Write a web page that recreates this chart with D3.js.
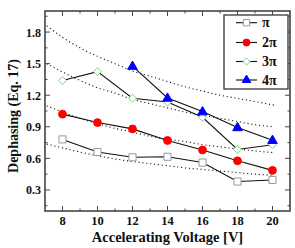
<!DOCTYPE html>
<html><head><meta charset="utf-8">
<script src="https://cdn.jsdelivr.net/npm/d3@7"></script>
<style>
html,body{margin:0;padding:0;background:#fff;}
text{font-family:"Liberation Serif","Times New Roman",serif;font-weight:bold;fill:#111;}
</style></head>
<body>
<svg id="c" width="295" height="248"></svg>
<script>
// ---- data ----
const voltages = [8, 10, 12, 14, 16, 18, 20];
const seriesNames = ["π", "2π", "3π", "4π"];
const piValues    = [0.78, 0.66, 0.61, 0.615, 0.56, 0.38, 0.395];
const twoPiValues = [1.02, 0.94, 0.88, 0.77, 0.68, 0.577, 0.486];
const threePiValues = [1.34, 1.424, 1.171, 1.135, 0.99, 0.685, 0.73];
const fourPiVolt  = [12, 14, 16, 18, 20];
const fourPiValues = [1.477, 1.174, 1.045, 0.894, 0.773];
// dotted guide curves
const curveVolt = [7.1, 8, 9, 10, 11, 12, 13, 14, 15, 16, 17, 18, 19, 20.1];
const curveA = [1.86, 1.75, 1.65, 1.57, 1.50, 1.43, 1.38, 1.33, 1.28, 1.24, 1.20, 1.17, 1.14, 1.105];
const curveB = [1.50, 1.42, 1.34, 1.27, 1.22, 1.16, 1.12, 1.08, 1.04, 1.01, 0.98, 0.95, 0.92, 0.90];
const curveC = [1.10, 1.04, 0.98, 0.93, 0.885, 0.85, 0.81, 0.78, 0.76, 0.73, 0.71, 0.69, 0.67, 0.655];
const curveD = [0.735, 0.70, 0.66, 0.625, 0.595, 0.57, 0.55, 0.53, 0.51, 0.495, 0.48, 0.465, 0.45, 0.44];
const xTickValues = [8, 10, 12, 14, 16, 18, 20];
const xMinorValues = [9, 11, 13, 15, 17, 19];
const yTickValues = [0.3, 0.6, 0.9, 1.2, 1.5, 1.8];
const yMinorValues = [0.15, 0.45, 0.75, 1.05, 1.35, 1.65, 1.95];
const xTitle = "Accelerating Voltage [V]";
const yTitle = "Dephasing (Eq. 17)";

// ---- drawing ----
const svg = d3.select("#c");
const L = 45, R = 290, T = 11, B = 211;
const x = d3.scaleLinear().domain([7, 21]).range([L, R]);
const y = d3.scaleLinear().domain([0.1, 2.0]).range([B, T]);
const axisColor = "#444";

// dotted curves
const line = d3.line().x(d => x(d[0])).y(d => y(d[1])).curve(d3.curveMonotoneX);
[curveA, curveB, curveC, curveD].forEach(c => {
  svg.append("path").datum(curveVolt.map((v, i) => [v, c[i]]))
    .attr("d", line).attr("fill", "none").attr("stroke", "#111")
    .attr("stroke-width", 1.1).attr("stroke-dasharray", "1.1,2.8");
});

// series
const series = [
  {name: seriesNames[0], xs: voltages, ys: piValues, sym: d3.symbolSquare, size: 50, fill: "#fff", stroke: "#999"},
  {name: seriesNames[1], xs: voltages, ys: twoPiValues, sym: d3.symbolCircle, size: 48, fill: "#f00", stroke: "#f00"},
  {name: seriesNames[2], xs: voltages, ys: threePiValues, sym: d3.symbolDiamond2 || d3.symbolDiamond, size: 40, fill: "#fff", stroke: "#8c8"},
  {name: seriesNames[3], xs: fourPiVolt, ys: fourPiValues, sym: d3.symbolTriangle, size: 40, fill: "#00f", stroke: "#00f"}
];
const sline = d3.line().x(d => x(d[0])).y(d => y(d[1]));
series.forEach(s => {
  svg.append("path").datum(s.xs.map((v, i) => [v, s.ys[i]]))
    .attr("d", sline).attr("fill", "none").attr("stroke", "#111").attr("stroke-width", 1.1);
});
series.forEach(s => {
  svg.selectAll(null).data(s.xs.map((v, i) => [v, s.ys[i]])).enter().append("path")
    .attr("d", d3.symbol().type(s.sym).size(s.size))
    .attr("transform", d => `translate(${x(d[0])},${y(d[1]) + (s.sym === d3.symbolTriangle ? 0.5 : 0)})`)
    .attr("fill", s.fill).attr("stroke", s.stroke).attr("stroke-width", 1);
});

// frame
svg.append("rect").attr("x", L).attr("y", T).attr("width", R - L).attr("height", B - T)
  .attr("fill", "none").attr("stroke", axisColor).attr("stroke-width", 1.6);

// ticks (inward on all sides)
const tk = svg.append("g").attr("stroke", axisColor).attr("stroke-width", 1);
xTickValues.forEach(v => {
  tk.append("line").attr("x1", x(v)).attr("x2", x(v)).attr("y1", B).attr("y2", B - 5);
  tk.append("line").attr("x1", x(v)).attr("x2", x(v)).attr("y1", T).attr("y2", T + 5);
});
xMinorValues.forEach(v => {
  tk.append("line").attr("x1", x(v)).attr("x2", x(v)).attr("y1", B).attr("y2", B - 2.5);
  tk.append("line").attr("x1", x(v)).attr("x2", x(v)).attr("y1", T).attr("y2", T + 2.5);
});
yTickValues.forEach(v => {
  tk.append("line").attr("x1", L).attr("x2", L + 5).attr("y1", y(v)).attr("y2", y(v));
  tk.append("line").attr("x1", R).attr("x2", R - 5).attr("y1", y(v)).attr("y2", y(v));
});
yMinorValues.forEach(v => {
  tk.append("line").attr("x1", L).attr("x2", L + 2.5).attr("y1", y(v)).attr("y2", y(v));
  tk.append("line").attr("x1", R).attr("x2", R - 2.5).attr("y1", y(v)).attr("y2", y(v));
});

// tick labels
svg.selectAll(null).data(xTickValues).enter().append("text")
  .attr("x", d => x(d)).attr("y", B + 13.5).attr("text-anchor", "middle")
  .attr("font-size", 12.5).text(d => d);
svg.selectAll(null).data(yTickValues).enter().append("text")
  .attr("x", L - 4).attr("y", d => y(d) + 4.5).attr("text-anchor", "end")
  .attr("font-size", 12).text(d => d.toFixed(1));

// titles
svg.append("text").attr("x", 167.5).attr("y", 241.5).attr("text-anchor", "middle")
  .attr("font-size", 14.5).text(xTitle);
svg.append("text").attr("transform", "translate(18,116) rotate(-90)").attr("text-anchor", "middle")
  .attr("font-size", 14).text(yTitle);

// legend
const lg = svg.append("g");
lg.append("rect").attr("x", 224).attr("y", 15).attr("width", 64).attr("height", 74)
  .attr("fill", "#fff").attr("stroke", axisColor).attr("stroke-width", 1.4);
const legY = [22.7, 42.5, 61.5, 80];
series.forEach((s, i) => {
  lg.append("line").attr("x1", 236).attr("x2", 257).attr("y1", legY[i]).attr("y2", legY[i])
    .attr("stroke", "#111").attr("stroke-width", 1.1);
  lg.append("path").attr("d", d3.symbol().type(s.sym).size(s.size * 0.8))
    .attr("transform", `translate(246.5,${legY[i]})`)
    .attr("fill", s.fill).attr("stroke", s.stroke).attr("stroke-width", 1);
  lg.append("text").attr("x", 262).attr("y", legY[i] + 4.5).attr("font-size", 14).text(s.name);
});
</script>
</body></html>
